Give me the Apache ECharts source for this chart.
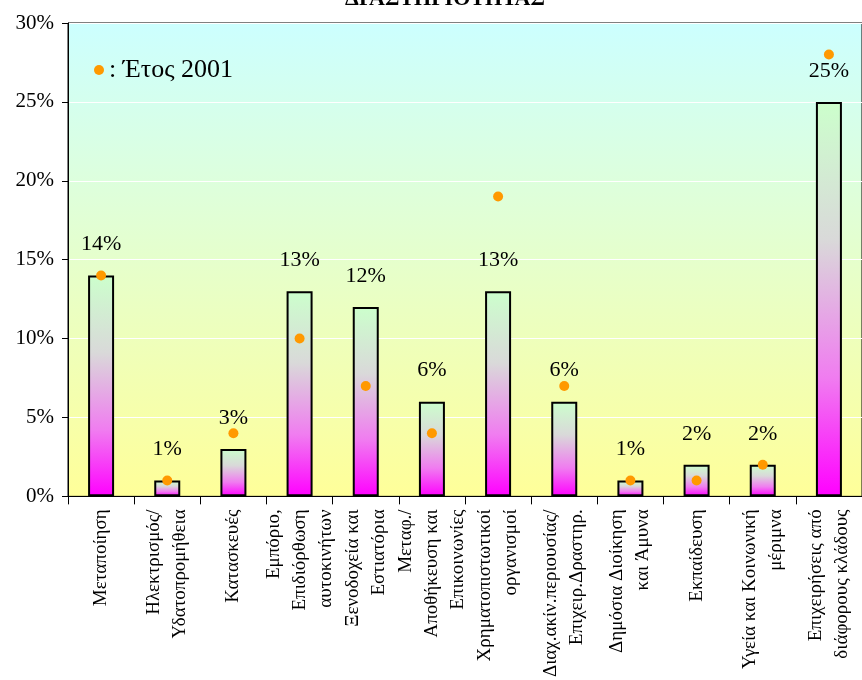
<!DOCTYPE html>
<html>
<head>
<meta charset="utf-8">
<script src="https://cdn.jsdelivr.net/npm/echarts@6/dist/echarts.min.js"></script>
<style>
html,body{margin:0;padding:0;background:#fff;}
#chart{width:862px;height:680px;}
</style>
</head>
<body>
<div id="chart"></div>
<script>
var categories = [
  "Μεταποίηση",
  "Ηλεκτρισμός/\nΥδατοπρομήθεια",
  "Κατασκευές",
  "Εμπόριο,\nΕπιδιόρθωση\nαυτοκινήτων",
  "Ξενοδοχεία και\nΕστιατόρια",
  "Μεταφ./\nΑποθήκευση και\nΕπικοινωνίες",
  "Χρηματοπιστωτικοί\nοργανισμοί",
  "Διαχ.ακίν.περιουσίας/\nΕπιχειρ.Δραστηρ.",
  "Δημόσια Διοίκηση\nκαι Άμυνα",
  "Εκπαίδευση",
  "Υγεία και Κοινωνική\nμέριμνα",
  "Επιχειρήσεις από\nδιάφορους κλάδους"
];
var shareCurrent = [14, 1, 3, 13, 12, 6, 13, 6, 1, 2, 2, 25];
var share2001 = [14, 1, 4, 10, 7, 4, 19, 7, 1, 1, 2, 28];
var yTicks = [0, 5, 10, 15, 20, 25, 30];
var titleText = "ΔΡΑΣΤΗΡΙΟΤΗΤΑΣ";
var legendText = ": Έτος 2001";

var serif = "'Liberation Serif','Times New Roman',serif";
var chart = echarts.init(document.getElementById('chart'), null, {renderer: 'canvas'});

var barGradient = new echarts.graphic.LinearGradient(0, 0, 0, 1, [
  {offset: 0, color: '#CCFFCC'},
  {offset: 0.35, color: '#D9D9D9'},
  {offset: 0.7, color: '#F07CF0'},
  {offset: 1, color: '#FF00FF'}
]);
var bgGradient = new echarts.graphic.LinearGradient(0, 0, 0, 1, [
  {offset: 0, color: '#CCFFFF'},
  {offset: 1, color: '#FFFF99'}
]);

var option = {
  animation: false,
  backgroundColor: '#ffffff',
  textStyle: {fontFamily: serif},
  graphic: [{
    type: 'text',
    x: 445,
    y: 10,
    style: {
      text: titleText,
      fill: '#000',
      font: 'bold 22px ' + serif,
      align: 'center',
      verticalAlign: 'bottom'
    }
  }],
  legend: {
    data: [{name: legendText, icon: 'circle'}],
    left: 89,
    top: 52,
    itemWidth: 10,
    itemHeight: 10,
    textStyle: {fontFamily: serif, fontSize: 26, color: '#000'}
  },
  grid: {
    left: 68,
    top: 23,
    width: 804,
    bottom: 183,
    show: true,
    backgroundColor: bgGradient,
    borderColor: '#000',
    borderWidth: 1,
    containLabel: false
  },
  xAxis: {
    type: 'category',
    data: categories,
    axisLine: {show: true, lineStyle: {color: '#000', width: 1}},
    axisTick: {show: true, length: 8, lineStyle: {color: '#000'}},
    axisLabel: {
      rotate: 90,
      interval: 0,
      margin: 13,
      fontFamily: serif,
      fontSize: 19,
      lineHeight: 26,
      color: '#000'
    },
    splitLine: {show: false}
  },
  yAxis: {
    type: 'value',
    min: yTicks[0],
    max: yTicks[yTicks.length - 1],
    interval: yTicks[1] - yTicks[0],
    axisLine: {show: true, lineStyle: {color: '#000', width: 1}},
    axisTick: {show: true, length: 6, lineStyle: {color: '#000'}},
    axisLabel: {
      formatter: '{value}%',
      margin: 14,
      fontFamily: serif,
      fontSize: 21,
      color: '#000'
    },
    splitLine: {show: true, lineStyle: {color: '#ffffff', width: 1}}
  },
  series: [
    {
      type: 'bar',
      name: 'current',
      data: shareCurrent,
      barWidth: 26,
      itemStyle: {color: barGradient, borderColor: '#000', borderWidth: 2},
      label: {
        show: true,
        position: 'top',
        distance: 20,
        formatter: '{c}%',
        fontFamily: serif,
        fontSize: 22,
        color: '#000'
      },
      z: 2
    },
    {
      type: 'scatter',
      name: legendText,
      data: share2001,
      symbol: 'circle',
      symbolSize: 10,
      itemStyle: {color: '#FF9900', opacity: 1},
      z: 5
    }
  ]
};
chart.setOption(option);
</script>
</body>
</html>
